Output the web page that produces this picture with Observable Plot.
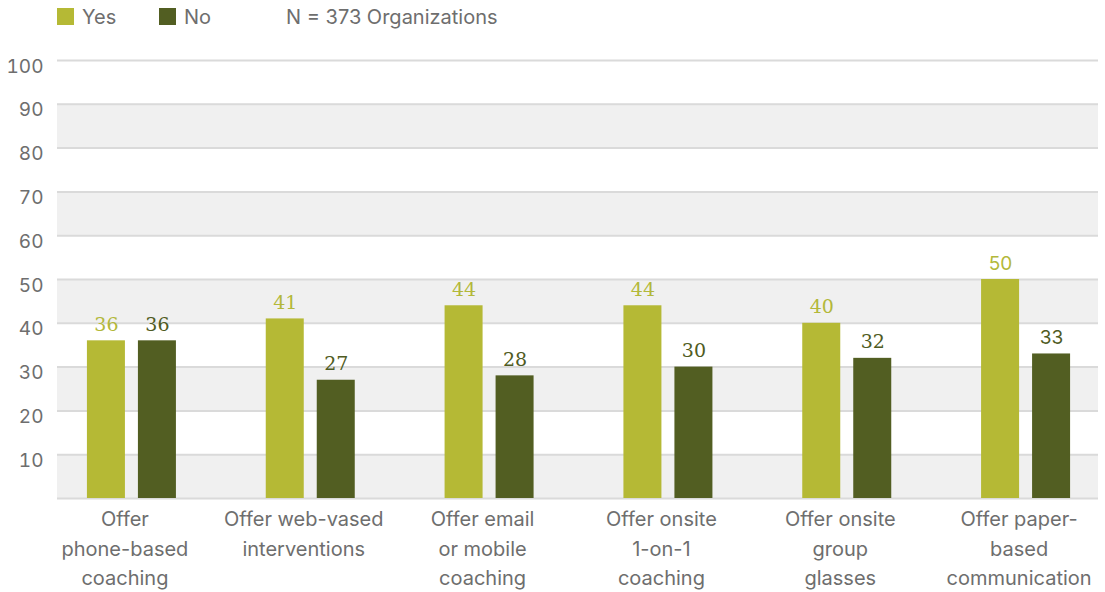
<!DOCTYPE html>
<html>
<head>
<meta charset="utf-8">
<script src="https://cdn.jsdelivr.net/npm/d3@7"></script>
<script src="https://cdn.jsdelivr.net/npm/@observablehq/plot@0.6"></script>
<style>
  body { margin: 0; background: #fff; font-family: Inter, "Noto Sans", sans-serif; }
  #wrap { position: relative; width: 1105px; height: 592px; }
  #legend { position: absolute; left: 0; top: 0; height: 34px; width: 1105px; font-size: 20px; color: #6e6e6e; }
  #legend .sw { position: absolute; top: 8px; width: 17px; height: 17px; }
  #legend .lb { position: absolute; top: 5px; line-height: 24px; white-space: nowrap; }
</style>
</head>
<body>
<div id="wrap">
  <div id="chart"></div>
  <div id="legend"></div>
</div>
<script>
const categories = [
  "Offer phone-based coaching",
  "Offer web-vased interventions",
  "Offer email or mobile coaching",
  "Offer onsite 1-on-1 coaching",
  "Offer onsite group glasses",
  "Offer paper-based communication"
];
const categoryLabels = [
  "Offer\nphone-based\ncoaching",
  "Offer web-vased\ninterventions",
  "Offer email\nor mobile\ncoaching",
  "Offer onsite\n1-on-1\ncoaching",
  "Offer onsite\ngroup\nglasses",
  "Offer paper-\nbased\ncommunication"
];
const seriesNames = ["Yes", "No"];
const yesValues = [36, 41, 44, 44, 40, 50];
const noValues = [36, 27, 28, 30, 32, 33];
const yTicks = [10, 20, 30, 40, 50, 60, 70, 80, 90, 100];
const gridValues = [0, 10, 20, 30, 40, 50, 60, 70, 80, 90, 100];
const stripeStarts = [0, 20, 40, 60, 80];
const legendNote = "N = 373 Organizations";

const colors = {Yes: "#b5b935", No: "#525e22"};
const labelColors = {Yes: "#b3b83a", No: "#4f5b22"};

const yesRows = categories.map((c, i) => ({cat: c, series: "Yes", value: yesValues[i]}));
const noRows = categories.map((c, i) => ({cat: c, series: "No", value: noValues[i]}));
const labelMap = new Map(categories.map((c, i) => [c, categoryLabels[i]]));

const sansFont = "Inter, 'Noto Sans', sans-serif";
const serifFont = "'DejaVu Serif', 'Liberation Serif', serif";
const lastCat = categories[categories.length - 1];

const barW = 38;
const off = 25.5;
const bandW = (1115 - 42) / categories.length;
const inset = (bandW - barW) / 2;

const chart = Plot.plot({
  width: 1105,
  height: 592,
  marginTop: 60,
  marginBottom: 94,
  marginLeft: 57,
  marginRight: 7,
  style: {background: "#fff", fontFamily: sansFont, overflow: "visible"},
  x: {domain: categories, range: [42, 1115], padding: 0, round: false, axis: null},
  y: {domain: [0, 100], axis: null},
  marks: [
    Plot.rectY(stripeStarts, {y1: d => d, y2: d => d + 10, fill: "#f0f0f0"}),
    Plot.ruleY(gridValues, {stroke: "#dadada", strokeWidth: 2}),
    Plot.barY(yesRows, {x: "cat", y: "value", fill: colors.Yes, dx: -off, insetLeft: inset, insetRight: inset}),
    Plot.barY(noRows, {x: "cat", y: "value", fill: colors.No, dx: off, insetLeft: inset, insetRight: inset}),
    Plot.text(yesRows.filter(d => d.cat !== lastCat), {x: "cat", y: "value", text: d => String(d.value), dx: -off, dy: -10, lineAnchor: "bottom", fill: labelColors.Yes, fontSize: 19, fontFamily: serifFont}),
    Plot.text(noRows.filter(d => d.cat !== lastCat), {x: "cat", y: "value", text: d => String(d.value), dx: off, dy: -10, lineAnchor: "bottom", fill: labelColors.No, fontSize: 19, fontFamily: serifFont}),
    Plot.text(yesRows.filter(d => d.cat === lastCat), {x: "cat", y: "value", text: d => String(d.value), dx: -off, dy: -10, lineAnchor: "bottom", fill: labelColors.Yes, fontSize: 19}),
    Plot.text(noRows.filter(d => d.cat === lastCat), {x: "cat", y: "value", text: d => String(d.value), dx: off, dy: -10, lineAnchor: "bottom", fill: labelColors.No, fontSize: 19}),
    Plot.axisY(yTicks, {tickSize: 0, tickPadding: 14, fontSize: 19, fill: "#6e6e6e", dy: 6, label: null}),
    Plot.axisX({tickSize: 0, tickPadding: 7, fontSize: 20, fill: "#6e6e6e", lineHeight: 1.475, dx: -7, tickFormat: d => labelMap.get(d), label: null})
  ]
});
document.getElementById("chart").appendChild(chart);

const legend = document.getElementById("legend");
const items = [
  {type: "sw", left: 57, color: colors.Yes},
  {type: "lb", left: 82, text: seriesNames[0]},
  {type: "sw", left: 159, color: colors.No},
  {type: "lb", left: 184, text: seriesNames[1]},
  {type: "lb", left: 286, text: legendNote}
];
for (const it of items) {
  const el = document.createElement("div");
  el.className = it.type;
  el.style.left = it.left + "px";
  if (it.type === "sw") el.style.background = it.color;
  else el.textContent = it.text;
  legend.appendChild(el);
}
</script>
</body>
</html>
